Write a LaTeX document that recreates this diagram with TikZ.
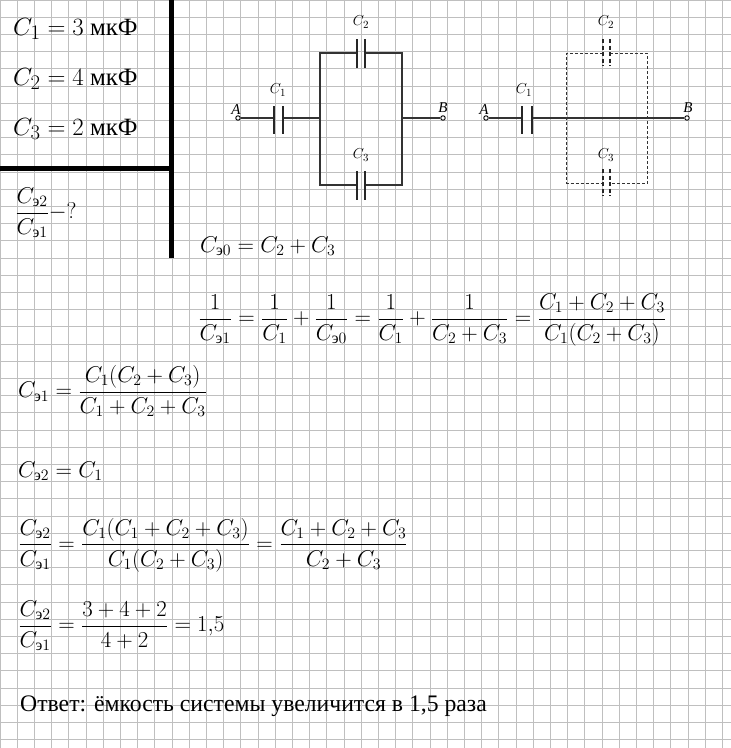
\documentclass[tikz,border=0pt]{standalone}
\usepackage{amsmath}
\usepackage{fontspec}
\setmainfont{Liberation Serif}
\newcommand\myEQ[1]{\scalebox{1.1}{$\displaystyle #1$}}
\begin{document}
\begin{tikzpicture}[x=1pt,y=-1pt,
  wire/.style={line width=1.3pt,black!80},
  plate/.style={line width=2.4pt,black!85},
  dwire/.style={line width=1.1pt,black!80,dash pattern=on 3pt off 2pt},
  dplate/.style={line width=2.4pt,black!85,dash pattern=on 4pt off 2.5pt},
  term/.style={circle,draw,line width=0.9pt,inner sep=0pt,minimum size=4.5pt,fill=white},
  lbl/.style={font=\fontsize{15}{17}\selectfont\itshape,inner sep=0pt},
  eq/.style={anchor=west,inner sep=0pt,font=\fontsize{20.74}{25}\selectfont},
  geq/.style={anchor=west,inner sep=0pt,font=\fontsize{24.88}{29}\selectfont}]
\useasboundingbox (0,0) rectangle (731,748);
\fill[white] (0,0) rectangle (731,748);
\foreach \i in {0,...,43} {
  \draw[black!25,line width=0.7pt] (\i*17.2,0) -- (\i*17.2,748);
  \draw[black!25,line width=0.7pt] (0,\i*17.2) -- (731,\i*17.2);
}
% frame
\draw[line width=5pt] (171,0) -- (171,258);
\draw[line width=5pt] (0,168) -- (171,168);
% givens
\node[geq] (g1) at (13,29) {$C_1=3\text{ мкФ}$};
\node[geq] (g2) at (13,79) {$C_2=4\text{ мкФ}$};
\node[geq] (g3) at (13,129) {$C_3=2\text{ мкФ}$};
\node[eq] (q) at (15,213) {\myEQ{\frac{C_{\text{э}2}}{C_{\text{э}1}}-?}};
% circuit 1
\node[term] (A1) at (238,118) {};
\node[term] (B1) at (443,118) {};
\coordinate (p1a) at (274,118); \coordinate (p1b) at (283,118);
\coordinate (jl) at (320,118); \coordinate (jr) at (402,118);
\coordinate (tl) at (320,53); \coordinate (tr) at (402,53);
\coordinate (bl) at (320,185); \coordinate (br) at (402,185);
\coordinate (c2a) at (356.7,53); \coordinate (c2b) at (365,53);
\coordinate (c3a) at (356.7,185); \coordinate (c3b) at (365,185);
\draw[wire] (A1) -- (p1a) (p1b) -- (jl) (jr) -- (B1);
\draw[wire] (c2a) -- (tl) -- (bl) -- (c3a) (c2b) -- (tr) -- (br) -- (c3b);
\draw[plate] (274,106) -- (274,134) (283,106) -- (283,134);
\draw[plate] (356.7,39) -- (356.7,68) (365,39) -- (365,68);
\draw[plate] (356.7,171) -- (356.7,200) (365,171) -- (365,200);
\node[lbl] (lA1) at (236,110) {A};
\node[lbl] (lB1) at (443,108) {B};
\node[lbl] (lC1) at (278,90) {$C_1$};
\node[lbl] (lC2) at (361,22) {$C_2$};
\node[lbl] (lC3) at (361,155) {$C_3$};
% circuit 2
\node[term] (A2) at (486,118) {};
\node[term] (B2) at (687,118) {};
\coordinate (q1a) at (521.7,118); \coordinate (q1b) at (531.7,118);
\draw[wire] (A2) -- (q1a) (q1b) -- (B2);
\draw[plate] (521.7,106) -- (521.7,134) (531.7,106) -- (531.7,134);
\draw[dwire] (602.7,53.3) -- (566.7,53.3) -- (566.7,183.3) -- (602.7,183.3)
  (610,53.3) -- (647.3,53.3) -- (647.3,183.3) -- (610,183.3);
\draw[dplate] (602.7,39) -- (602.7,66) (610,39) -- (610,66);
\draw[dplate] (602.7,169) -- (602.7,196) (610,169) -- (610,196);
\node[lbl] (lA2) at (484,110) {A};
\node[lbl] (lB2) at (688,108) {B};
\node[lbl] (lC1b) at (524,90) {$C_1$};
\node[lbl] (lC2b) at (606,22) {$C_2$};
\node[lbl] (lC3b) at (606,155) {$C_3$};
% equations
\node[eq] (e1) at (200,246) {\myEQ{C_{\text{э}0}=C_2+C_3}};
\node[eq] (e2) at (198,320) {\myEQ{\frac{1}{C_{\text{э}1}}=\frac{1}{C_1}+\frac{1}{C_{\text{э}0}}=\frac{1}{C_1}+\frac{1}{C_2+C_3}=\frac{C_1+C_2+C_3}{C_1(C_2+C_3)}}};
\node[eq] (e3) at (18,391) {\myEQ{C_{\text{э}1}=\frac{C_1(C_2+C_3)}{C_1+C_2+C_3}}};
\node[eq] (e4) at (18,471) {\myEQ{C_{\text{э}2}=C_1}};
\node[eq] (e5) at (18,545) {\myEQ{\frac{C_{\text{э}2}}{C_{\text{э}1}}=\frac{C_1(C_1+C_2+C_3)}{C_1(C_2+C_3)}=\frac{C_1+C_2+C_3}{C_2+C_3}}};
\node[eq] (e6) at (18,626) {\myEQ{\frac{C_{\text{э}2}}{C_{\text{э}1}}=\frac{3+4+2}{4+2}=1{,}5}};
\node[anchor=west,inner sep=0pt,font=\fontsize{23.7}{27}\selectfont] (ans) at (20,706) {Ответ: ёмкость системы увеличится в 1,5 раза};
\end{tikzpicture}
\end{document}
